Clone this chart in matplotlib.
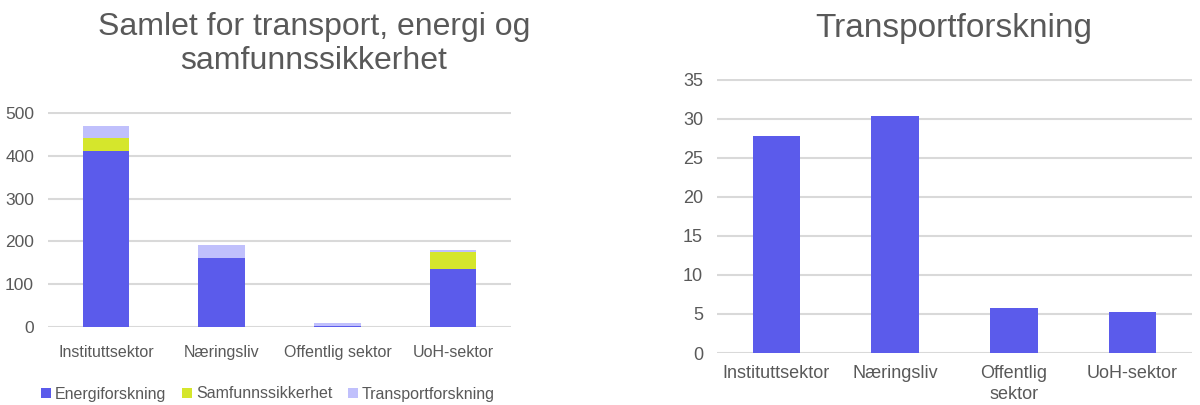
import matplotlib
matplotlib.use("Agg")
import matplotlib.pyplot as plt
from matplotlib.patches import Patch

plt.rcParams["font.family"] = ["Liberation Sans", "DejaVu Sans"]

sectors = ["Instituttsektor", "Næringsliv", "Offentlig sektor", "UoH-sektor"]
sectors_wrapped = ["Instituttsektor", "Næringsliv", "Offentlig\nsektor", "UoH-sektor"]

energi = [412, 160, 3, 135]
samfunn = [30, 0, 0, 39]
transport = [27.8, 30.4, 5.8, 5.2]

series_names = ["Energiforskning", "Samfunnssikkerhet", "Transportforskning"]
colors = ["#5B5BEB", "#D5E62C", "#C0C0FC"]

text_col = "#595959"
grid_col = "#D9D9D9"

fig = plt.figure(figsize=(12, 4.05), dpi=100)

def style(ax, ymax, step, xpad, xsize, ysize):
    ax.set_yticks(range(0, ymax + 1, step))
    ax.set_xlim(-0.5, 3.5)
    ax.grid(axis="y", color=grid_col, linewidth=1.5)
    ax.set_axisbelow(True)
    for s in ax.spines.values():
        s.set_visible(False)
    ax.tick_params(axis="both", length=0, labelcolor=text_col)
    ax.tick_params(axis="y", pad=10, labelsize=ysize)
    ax.tick_params(axis="x", pad=xpad, labelsize=xsize)

# Left: stacked totals
ax1 = fig.add_axes([48 / 1200, 1 - 327 / 405, 463 / 1200, 215 / 405])
x = range(len(sectors))
bottom = [0] * 4
for vals, name, c in zip([energi, samfunn, transport], series_names, colors):
    ax1.bar(x, vals, width=0.4, bottom=bottom, color=c, label=name)
    bottom = [b + v for b, v in zip(bottom, vals)]
ax1.set_xticks(list(x))
ax1.set_xticklabels(sectors)
style(ax1, 500, 100, 13, 11.5, 12.5)
ax1.set_ylim(0, 502)

fig.text(314 / 1200, 1 - 44 / 405, "Samlet for transport, energi og\nsamfunnssikkerhet",
         ha="center", va="center", fontsize=23, color=text_col, linespacing=1.2)

handles = [Patch(facecolor=c, edgecolor="none") for c in colors]
fig.legend(handles, series_names, loc="center", bbox_to_anchor=(268 / 1200, 1 - 394 / 405),
           ncol=3, frameon=False, fontsize=11.5, labelcolor=text_col,
           handlelength=0.6, handleheight=0.6, handletextpad=0.25, columnspacing=1.0)

# Right: transport research only
ax2 = fig.add_axes([717 / 1200, 1 - 353 / 405, 475 / 1200, 274 / 405])
ax2.bar(x, transport, width=0.4, color=colors[0])
ax2.set_xticks(list(x))
ax2.set_xticklabels(sectors_wrapped, linespacing=1.25)
style(ax2, 35, 5, 9, 13, 13)
ax2.set_ylim(0, 35.1)

fig.text(954 / 1200, 1 - 28 / 405, "Transportforskning", ha="center", va="center",
         fontsize=24, color=text_col)

fig.savefig("out.png", dpi=100, facecolor="white")
